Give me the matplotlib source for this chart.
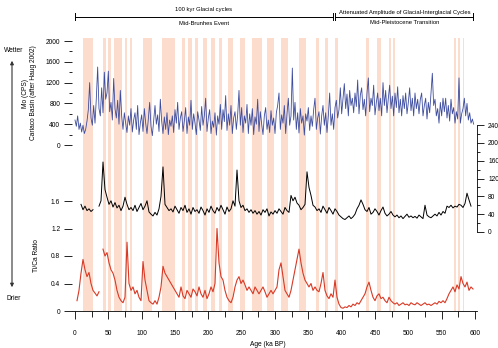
import numpy as np
import matplotlib
matplotlib.use('Agg')
from matplotlib import pyplot as plt

plt.rcParams['font.family'] = ['Liberation Sans', 'DejaVu Sans']

# age grids (ka BP)
age_mo = np.arange(0, 600, 2)
age = np.arange(0, 600, 3)

# Mo (CPS), Cariaco Basin, every 2 ka
mo_cps = [
    480, 360, 560, 300, 420, 250, 380, 220, 300, 460,
    680, 1200, 520, 380, 760, 420, 900, 1500, 700, 560,
    1100, 620, 1400, 880, 1000, 1420, 640, 820, 480, 1280,
    700, 520, 860, 400, 1050, 560, 300, 620, 420, 240,
    560, 380, 700, 250, 480, 620, 300, 760, 200, 420,
    580, 260, 700, 420, 220, 500, 820, 360, 180, 460,
    760, 400, 580, 260, 880, 460, 220, 540, 300, 620,
    200, 480, 360, 560, 240, 680, 420, 820, 300, 520,
    640, 260, 460, 720, 220, 540, 380, 860, 300, 600,
    420, 200, 640, 480, 280, 740, 380, 560, 900, 260,
    520, 680, 220, 460, 340, 620, 190, 560, 400, 780,
    300, 680, 450, 950, 280, 600, 380, 760, 220, 520,
    640, 300, 580, 1050, 380, 720, 240, 560, 420, 780,
    220, 600, 380, 700, 200, 540, 400, 880, 260, 640,
    400, 200, 560, 720, 300, 480, 240, 660, 380, 520,
    220, 620, 760, 1000, 300, 580, 420, 760, 220, 600,
    900, 380, 560, 1480, 480, 820, 300, 620, 230, 700,
    420, 560, 190, 600, 460, 720, 280, 560, 360, 680,
    900, 300, 520, 640, 210, 560, 760, 380, 620, 240,
    560, 1000, 380, 600, 300, 720, 860, 520, 680, 1100,
    600, 880, 1180, 700, 980, 560, 1050, 760, 900, 620,
    1000, 740, 1250, 600, 960, 1100, 680, 880, 560, 1000,
    1290, 640, 900, 760, 1150, 580, 820, 1000, 660, 900,
    560, 1200, 760, 1050, 620, 900, 1150, 700, 940, 560,
    1000, 720, 1120, 620, 880, 560, 950, 700, 1000, 600,
    820, 1100, 660, 900, 560, 1000, 700, 880, 600, 880,
    1000, 560, 760, 900, 500, 820, 620, 1000, 1380, 760,
    880, 560, 700, 420, 820, 560, 900, 640, 900, 520,
    760, 460, 880, 600, 720, 420, 640, 500, 1290, 420,
    600, 700, 900, 560, 800, 480, 620, 420, 500, 400,
]

nan = np.nan
# black record (right axis), every 3 ka
black_val = [
    nan, nan, nan, 62, 50, 58, 48, 52, 46, 50,
    nan, nan, 58, 70, 157, 95, 78, 62, 70, 56,
    66, 54, 60, 48, 58, 78, 62, 50, 55, 48,
    60, 46, 55, 64, 50, 58, 70, 45, 40, 36,
    44, 38, 52, 80, 146, 62, 55, 48, 52, 45,
    58, 50, 42, 55, 48, 60, 44, 52, 40, 55,
    46, 50, 42, 56, 48, 38, 52, 44, 58, 48,
    42, 55, 47, 60, 50, 40, 56, 46, 52, 70,
    58, 139, 70, 55, 60, 48, 52, 44, 50, 42,
    48, 40, 46, 38, 50, 44, 52, 36, 45, 40,
    48, 42, 52, 46, 40, 55, 48, 44, 82, 70,
    78, 65, 60, 50, 55, 62, 135, 100, 82, 60,
    56, 48, 52, 44, 58, 50, 42, 55, 48, 40,
    52, 46, 38, 34, 30, 28, 32, 36, 30, 34,
    40, 52, 60, 72, 62, 50, 46, 55, 40, 44,
    52, 46, 38, 48, 56, 42, 36, 40, 46, 38,
    34, 38, 32, 36, 30, 35, 40, 33, 36, 32,
    35, 31, 38, 34, 30, 60, 38, 34, 32, 36,
    40, 36, 44, 38, 46, 42, 58, 55, 60, 54,
    58, 56, 62, 60, 55, 64, 87, 72, 58, nan,
]

# Ti/Ca ratio, every 3 ka
ti_ca = [
    nan, 0.15, 0.3, 0.55, 0.75, 0.6, 0.5, 0.56, 0.4, 0.3,
    0.26, 0.22, 0.28, nan, 0.9, 0.8, 0.85, 0.7, 0.6, 0.55,
    0.45, 0.3, 0.2, 0.15, 0.12, 0.2, 1.0, 0.4, 0.3, 0.35,
    0.25, 0.3, 0.2, 0.15, 0.72, 0.45, 0.3, 0.15, 0.12, 0.1,
    0.15, 0.1, 0.2, 0.35, 0.65, 0.55, 0.5, 0.45, 0.4, 0.35,
    0.3, 0.25, 0.2, 0.35, 0.22, 0.18, 0.3, 0.25, 0.2, 0.32,
    0.28, 0.22, 0.35, 0.25, 0.2, 0.3, 0.18, 0.25, 0.35, 0.28,
    0.4, 1.2, 0.7, 0.5, 0.45, 0.3, 0.2, 0.15, 0.12, 0.2,
    0.35, 0.45, 0.5, 0.4, 0.45, 0.38, 0.3, 0.35, 0.3, 0.25,
    0.35, 0.3, 0.25, 0.3, 0.35, 0.28, 0.2, 0.25, 0.3, 0.25,
    0.3, 0.35, 0.6, 0.7, 0.5, 0.3, 0.25, 0.2, 0.3, 0.45,
    0.6, 0.75, 0.9, 0.7, 0.55, 0.45, 0.4, 0.35, 0.4, 0.3,
    0.35, 0.3, 0.28, 0.4, 0.56, 0.3, 0.22, 0.18, 0.25, 0.2,
    0.45, 0.2, 0.1, 0.05, 0.04, 0.06, 0.05, 0.08, 0.06, 0.1,
    0.08, 0.12, 0.1, 0.15, 0.2, 0.25, 0.35, 0.42, 0.3, 0.2,
    0.15, 0.22, 0.25, 0.18, 0.2, 0.15, 0.12, 0.2, 0.15, 0.12,
    0.1, 0.12, 0.08, 0.1, 0.12, 0.09, 0.1, 0.08, 0.12, 0.1,
    0.09, 0.12, 0.1, 0.08, 0.1, 0.12, 0.09, 0.1, 0.08, 0.1,
    0.12, 0.1, 0.14, 0.12, 0.15, 0.12, 0.18, 0.25, 0.3, 0.35,
    0.28, 0.38, 0.32, 0.5, 0.4, 0.35, 0.42, 0.3, 0.35, 0.32,
]

# shaded intervals (ka)
band_start = [12, 42, 49.5, 58.5, 75, 82.5, 102, 130.5, 160.5, 169.5, 180, 192, 204,
              216, 229.5, 247.5, 265.5, 288, 309, 336, 361.5, 375, 390, 436.5, 453,
              471, 477, 568.5, 574.5, 582]
band_end = [27, 46.5, 54, 70.5, 78, 85.5, 115.5, 150, 165, 175.5, 184.5, 198, 210,
            220.5, 237, 255, 280.5, 298.5, 319.5, 346.5, 366, 379.5, 394.5, 441, 459,
            474, 480, 571.5, 577.5, 583.5]

W, H = 498, 348
XL, XR = 72, 477
XLIM = (-4.5, 603)
band_color = '#fcdccd'
blue = '#3d4c9e'
red = '#d83a26'
fs = 4.8


def box(ytop, ybot, x0=XL, x1=XR):
    return [x0 / W, 1 - ybot / H, (x1 - x0) / W, (ybot - ytop) / H]


def bare(ax):
    ax.patch.set_visible(False)
    for s in ax.spines.values():
        s.set_visible(False)
    ax.set_xlim(*XLIM)


fig = plt.figure(figsize=(W / 100, H / 100), dpi=100)

# background bands
ax_bg = fig.add_axes(box(38, 311))
bare(ax_bg)
for s, e in zip(band_start, band_end):
    ax_bg.axvspan(s, e, color=band_color, lw=0)
ax_bg.set_xticks([])
ax_bg.set_yticks([])

# Mo panel
ax_mo = fig.add_axes(box(41, 145))
bare(ax_mo)
ax_mo.plot(age_mo, mo_cps, color=blue, lw=0.6)
ax_mo.set_ylim(0, 2000)
ax_mo.set_yticks([0, 400, 800, 1200, 1600, 2000])
ax_mo.set_yticks(np.arange(200, 2000, 400), minor=True)
ax_mo.set_xticks([])
ax_mo.tick_params(axis='y', labelsize=fs, length=5.5, width=0.6, pad=3)
ax_mo.tick_params(axis='y', which='minor', length=2.5, width=0.6)
ax_mo.set_ylabel('Mo (CPS)\nCariaco Basin (after Haug 2002)', fontsize=fs, labelpad=6)

# black record, right axis
ax_bk = fig.add_axes(box(125, 232))
bare(ax_bk)
ax_bk.plot(age, black_val, color='black', lw=0.7)
ax_bk.set_ylim(0, 240)
ax_bk.spines['right'].set_visible(True)
ax_bk.spines['right'].set_linewidth(0.6)
ax_bk.yaxis.tick_right()
ax_bk.set_yticks([0, 40, 80, 120, 160, 200, 240])
ax_bk.set_yticks(np.arange(20, 240, 40), minor=True)
ax_bk.set_xticks([])
ax_bk.tick_params(axis='y', labelsize=fs, length=5, width=0.6, pad=3)
ax_bk.tick_params(axis='y', which='minor', length=2.5, width=0.6)

# Ti/Ca panel
ax_ti = fig.add_axes(box(201, 311))
bare(ax_ti)
ax_ti.plot(age, ti_ca, color=red, lw=0.8)
ax_ti.set_ylim(0, 1.6)
ax_ti.spines['bottom'].set_visible(True)
ax_ti.spines['bottom'].set_linewidth(0.6)
ax_ti.set_yticks([0, 0.4, 0.8, 1.2, 1.6])
ax_ti.set_yticklabels(['0', '0.4', '0.8', '1.2', '1.6'])
ax_ti.set_xticks(np.arange(0, 601, 50))
ax_ti.set_xticks(np.arange(25, 600, 50), minor=True)
ax_ti.tick_params(axis='y', labelsize=fs, length=5.5, width=0.6, pad=3)
ax_ti.tick_params(axis='x', labelsize=fs, length=6, width=0.6, pad=8)
ax_ti.tick_params(axis='x', which='minor', length=4, width=0.6)
ax_ti.set_ylabel('Ti/Ca Ratio', fontsize=fs, labelpad=8)
fig.text(250 / W, 1 - 344 / H, 'Age (ka BP)', fontsize=fs, ha='left', va='center')

# period brackets on top
ax_top = fig.add_axes(box(0, 30))
bare(ax_top)
ax_top.set_ylim(30, 0)
ax_top.set_xticks([])
ax_top.set_yticks([])
for x0, x1 in [(0, 387), (390, 597)]:
    ax_top.plot([x0, x1], [16.5, 16.5], color='black', lw=0.7)
    for x in (x0, x1):
        ax_top.plot([x, x], [13, 20], color='black', lw=0.7)
ax_top.text(193, 10, '100 kyr Glacial cycles', fontsize=4.2, ha='center', va='center')
ax_top.text(193, 23.5, 'Mid-Brunhes Event', fontsize=4.2, ha='center', va='center')
ax_top.text(494, 12.5, 'Attenuated Amplitude of Glacial-Interglacial Cycles',
            fontsize=4.2, ha='center', va='center')
ax_top.text(494, 23, 'Mid-Pleistocene Transition', fontsize=4.2, ha='center', va='center')

# wetter / drier arrow
fig.text(14 / W, 1 - 50 / H, 'Wetter', fontsize=fs, ha='center', va='center')
fig.text(14 / W, 1 - 298 / H, 'Drier', fontsize=fs, ha='center', va='center')
fig.patches.append(matplotlib.patches.FancyArrowPatch(
    (12 / W, 1 - 290 / H), (12 / W, 1 - 58 / H), transform=fig.transFigure,
    arrowstyle='<|-|>', mutation_scale=5, lw=0.8, color='#333333'))

fig.savefig('out.png', dpi=100)
